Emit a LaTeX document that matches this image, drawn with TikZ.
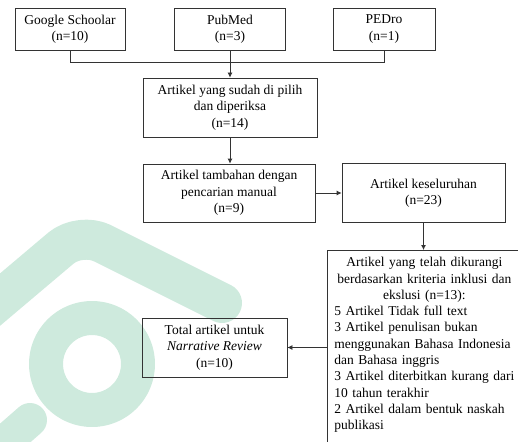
\documentclass[tikz,border=0pt]{standalone}
\usepackage{fontspec}
\setmainfont{Liberation Serif}
\usepackage{tikz}
\usetikzlibrary{arrows.meta, positioning}
\definecolor{tanda}{RGB}{206,234,221}
\newcommand{\isi}{\fontsize{13.5}{16.3}\selectfont}
\tikzset{
  kotak/.style={draw=black!80, line width=0.8pt, align=center, inner sep=0pt, font=\isi},
  garis/.style={draw=black!80, line width=0.8pt},
  panah/.style={garis, -{Latex[length=5pt,width=5pt]}},
  tanda/.style={draw=tanda, line cap=round, line join=round}
}

\begin{document}
\begin{tikzpicture}[x=1pt, y=-1pt]
\useasboundingbox (0,0) rectangle (518,441);
\clip (0,0) rectangle (518,441);
% latar (watermark)
\draw[tanda, line width=40, rounded corners=25] (-30,325) -- (80,232) -- (222,303);
\draw[tanda, line width=34] (92,364) circle (46);
\draw[tanda, line width=34] (-10,455) -- (30,420);

% sumber pencarian
\node[kotak, minimum width=110, minimum height=42] (google) at (70,29) {Google Schoolar\\(n=10)};
\node[kotak, minimum width=111, minimum height=42] (pubmed) at (230,29) {PubMed\\(n=3)};
\node[kotak, minimum width=102, minimum height=42] (pedro) at (384,29) {PEDro\\(n=1)};
% alur
\node[kotak, minimum width=174, minimum height=59] (pilih) at (230,107.5) {Artikel yang sudah di pilih\\dan diperiksa\\(n=14)};
\node[kotak, minimum width=172, minimum height=58] (tambahan) at (229,193) {Artikel tambahan dengan\\pencarian manual\\(n=9)};
\node[kotak, minimum width=163, minimum height=59] (seluruh) at (423.5,193) {Artikel keseluruhan\\(n=23)};
\node[kotak, draw=none, anchor=north west, inner xsep=7pt, inner ysep=7pt, text width=180pt, align=left] (kriteria) at (327,250)
  {{\centering Artikel yang telah dikurangi\\berdasarkan kriteria inklusi dan\\ekslusi (n=13):\par}
   5 Artikel Tidak full text\\
   3 Artikel penulisan bukan\\
   menggunakan Bahasa Indonesia\\
   dan Bahasa inggris\\
   3 Artikel diterbitkan kurang dari\\
   10 tahun terakhir\\
   2 Artikel dalam bentuk naskah\\
   publikasi};
\node[kotak, minimum width=145, minimum height=59] (total) at (214.5,347.5) {Total artikel untuk\\\textit{Narrative Review}\\(n=10)};

\draw[garis] (kriteria.north west) ++(0,200) -- (kriteria.north west) -- (kriteria.north east);

\draw[garis] (google.south) -- ++(0,12) -| (pedro.south);
\draw[panah] (pubmed.south) -- (pilih.north);
\draw[panah] (pilih.south) -- (pilih.south |- tambahan.north);
\draw[panah] (tambahan.east) -- (seluruh.west);
\draw[panah] (seluruh.south) -- (seluruh.south |- kriteria.north);
\draw[panah] (total.east -| kriteria.west) -- (total.east);
\end{tikzpicture}
\end{document}
